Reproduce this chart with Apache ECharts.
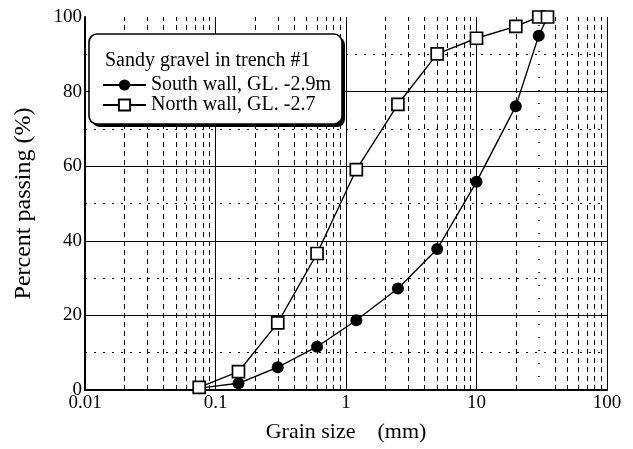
<!DOCTYPE html>
<html>
<head>
<meta charset="utf-8">
<script src="https://cdn.jsdelivr.net/npm/echarts@6/dist/echarts.min.js"></script>
<style>
  html, body { margin: 0; padding: 0; background: #fff; }
  #chart { width: 633px; height: 449px; }
</style>
</head>
<body>
<div id="chart"></div>
<script>
// grain sizes (mm) of the sieves
var grainSize = [0.075, 0.15, 0.3, 0.6, 1.2, 2.5, 5, 10, 20, 30, 35];
// percent passing
var southWall = [0.5, 1.8, 6.1, 11.6, 18.7, 27.2, 37.8, 55.8, 76.1, 95.0, 100];
var northWall = [0.7, 4.9, 18.0, 36.6, 59.1, 76.6, 90.1, 94.3, 97.5, 100, 100];
var seriesNames = ['South wall, GL. -2.9m', 'North wall, GL. -2.7'];
var legendTitle = 'Sandy gravel in trench #1';
// log grid positions between decades
var minorGrid = [0.02, 0.03, 0.04, 0.05, 0.06, 0.07, 0.08, 0.09,
                 0.2, 0.3, 0.4, 0.5, 0.6, 0.7, 0.8, 0.9,
                 2, 3, 4, 5, 6, 7, 8, 9,
                 20, 40, 50, 60, 70, 80, 90];
var sparseGrid = [30];
var xTickLabels = {0.01: '0.01', 0.1: '0.1', 1: '1', 10: '10', 100: '100'};

var FONT = 'Liberation Serif';

function pairs(xs, ys) {
    return xs.map(function (x, i) { return [x, ys[i]]; });
}

var chart = echarts.init(document.getElementById('chart'));
chart.setOption({
    animation: false,
    backgroundColor: '#fff',
    grid: { left: 85, right: 26, top: 17, bottom: 59 },
    xAxis: {
        type: 'log',
        logBase: 10,
        min: 0.01,
        max: 100,
        name: 'Grain size    (mm)',
        nameLocation: 'middle',
        nameGap: 31,
        nameTextStyle: { fontFamily: FONT, fontSize: 22, color: '#000' },
        axisLine: { lineStyle: { color: '#000', width: 2 } },
        axisTick: { show: false },
        axisLabel: {
            fontFamily: FONT, fontSize: 19, color: '#000', margin: 4,
            formatter: function (v) {
                var k = Math.round(Math.log10(v));
                return xTickLabels[Math.pow(10, k)] || '';
            }
        },
        splitLine: { show: true, lineStyle: { color: '#000', width: 1 } }
    },
    yAxis: {
        type: 'value',
        min: 0,
        max: 100,
        interval: 20,
        name: 'Percent passing (%)',
        nameLocation: 'middle',
        nameGap: 49,
        nameTextStyle: { fontFamily: FONT, fontSize: 24, color: '#000' },
        axisLine: { show: true, lineStyle: { color: '#000', width: 2 } },
        axisTick: { show: false },
        axisLabel: { fontFamily: FONT, fontSize: 19, color: '#000', margin: 3 },
        splitLine: { show: true, showMaxLine: false, lineStyle: { color: '#000', width: 1 } },
        minorTick: { show: false, splitNumber: 2 },
        minorSplitLine: { show: true, lineStyle: { color: '#000', width: 1, type: [2, 7] } }
    },
    legend: {
        orient: 'vertical',
        left: 102,
        top: 75,
        padding: 0,
        itemGap: 0,
        itemWidth: 43,
        itemHeight: 14,
        z: 20,
        textStyle: { fontFamily: FONT, fontSize: 20, color: '#000', lineHeight: 18, padding: [0, 0, 0, 0] },
        data: seriesNames
    },
    graphic: [
        {
            type: 'rect', z: 10,
            shape: { x: 92, y: 37, width: 253, height: 90, r: 8 },
            style: { fill: '#000' }
        },
        {
            type: 'rect', z: 11,
            shape: { x: 89, y: 34, width: 253, height: 90, r: 8 },
            style: { fill: '#fff', stroke: '#000', lineWidth: 1.6 }
        },
        {
            type: 'text', z: 21, x: 105, y: 61,
            style: { text: legendTitle, font: '20px "Liberation Serif"', fill: '#000', verticalAlign: 'middle' }
        }
    ],
    series: [
        {
            name: 'grid',
            type: 'line',
            data: [],
            silent: true,
            z: 1,
            markLine: {
                silent: true,
                symbol: 'none',
                label: { show: false },
                lineStyle: { color: '#000', width: 1, type: [5, 4] },
                data: minorGrid.map(function (v) { return { xAxis: v }; })
                    .concat(sparseGrid.map(function (v) {
                        return { xAxis: v, lineStyle: { type: [1, 12], width: 1.5 } };
                    }))
            }
        },
        {
            name: seriesNames[0],
            type: 'line',
            data: pairs(grainSize, southWall),
            symbol: 'circle',
            symbolSize: 12,
            z: 5,
            lineStyle: { color: '#000', width: 1.4 },
            itemStyle: { color: '#000' }
        },
        {
            name: seriesNames[1],
            type: 'line',
            data: pairs(grainSize, northWall),
            symbol: 'rect',
            symbolSize: 12,
            z: 6,
            lineStyle: { color: '#000', width: 1.4 },
            itemStyle: { color: '#fff', borderColor: '#000', borderWidth: 1.7 }
        }
    ]
});
</script>
</body>
</html>
